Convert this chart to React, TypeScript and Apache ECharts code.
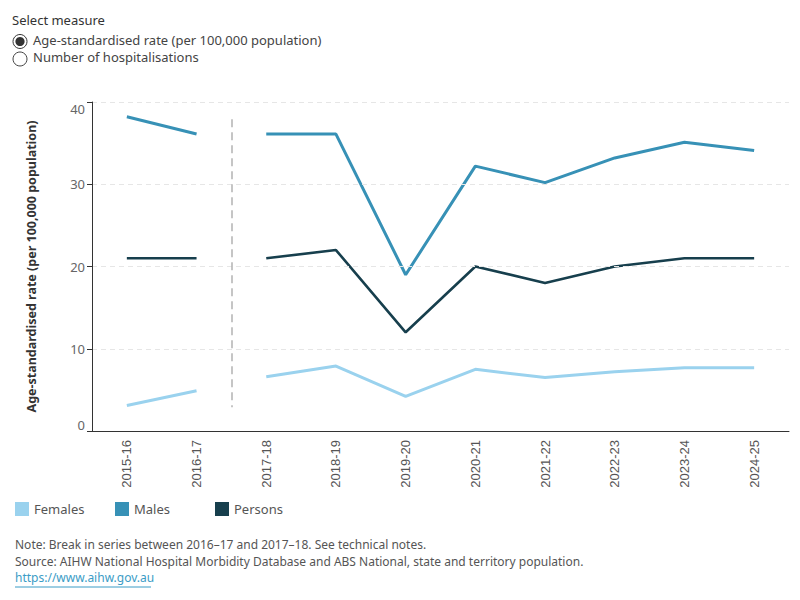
import { useEffect, useRef } from "react";
import * as echarts from "echarts";

// Financial years shown on the x axis
const years = [
  "2015-16",
  "2016-17",
  "2017-18",
  "2018-19",
  "2019-20",
  "2020-21",
  "2021-22",
  "2022-23",
  "2023-24",
  "2024-25",
];

// Age-standardised rate (per 100,000 population)
const females = [3.1, 4.9, 6.6, 7.9, 4.2, 7.5, 6.5, 7.2, 7.7, 7.7];
const males = [38.2, 36.1, 36.1, 36.1, 19.0, 32.2, 30.2, 33.2, 35.1, 34.1];
const persons = [21.0, 21.0, 21.0, 22.0, 12.0, 20.0, 18.0, 20.0, 21.0, 21.0];

const seriesNames = ["Females", "Males", "Persons"];
const seriesColors = ["#9ad2ee", "#3791b6", "#173f4d"];

// Index of the last year before the break in series
const BREAK_AFTER = 1;

const yTickValues = [0, 10, 20, 30, 40];

const FONT = "'Noto Sans', 'Open Sans', sans-serif";

function splitAtBreak(values: number[]): [(number | string)[], (number | string)[]] {
  const before = values.map((v, i) => (i <= BREAK_AFTER ? v : "-"));
  const after = values.map((v, i) => (i > BREAK_AFTER ? v : "-"));
  return [before, after];
}

export default function App() {
  const ref = useRef<HTMLDivElement>(null);

  useEffect(() => {
    if (!ref.current) return;
    const chart = echarts.init(ref.current, null, { renderer: "svg" });

    const groups = [females, males, persons];
    const lineSeries: any[] = [];
    groups.forEach((values, gi) => {
      const parts = splitAtBreak(values);
      parts.forEach((part) => {
        lineSeries.push({
          name: seriesNames[gi],
          type: "line",
          data: part,
          xAxisIndex: 0,
          yAxisIndex: 0,
          showSymbol: false,
          symbol: "none",
          connectNulls: false,
          color: seriesColors[gi],
          lineStyle: { color: seriesColors[gi], width: gi === 2 ? 2.6 : 3 },
          emphasis: { disabled: true },
          z: 3,
        });
      });
    });

    // Break-in-series marker between 2016-17 and 2017-18
    const breakSeries = {
      type: "line",
      xAxisIndex: 1,
      yAxisIndex: 0,
      data: [],
      silent: true,
      markArea: {
        silent: true,
        itemStyle: { color: "#ffffff" },
        data: [[{ xAxis: BREAK_AFTER + 0.22, yAxis: 0.3 }, { xAxis: BREAK_AFTER + 0.78, yAxis: 39.6 }]],
      },
      markLine: {
        silent: true,
        symbol: "none",
        label: { show: false },
        lineStyle: { type: [8, 5], color: "#b3b3b3", width: 1.5 },
        data: [[{ coord: [BREAK_AFTER + 0.5, 37.9] }, { coord: [BREAK_AFTER + 0.5, 2.9] }]],
      },
      z: 2,
    };

    // One legend block per series so the entries sit on an even 100px pitch
    const legends = seriesNames.map((name, i) => ({
      data: [name],
      left: 15 + i * 100,
      top: 502,
      padding: 0,
      icon: "rect",
      itemWidth: 14,
      itemHeight: 14,
      selectedMode: false,
      textStyle: { color: "#555555", fontSize: 13, fontFamily: FONT },
    }));

    const option: any = {
      animation: false,
      backgroundColor: "#ffffff",
      textStyle: { fontFamily: FONT },
      grid: { left: 92, right: 11, top: 102, bottom: 169, containLabel: false },
      legend: legends,
      xAxis: [
        {
          type: "category",
          data: years,
          boundaryGap: true,
          axisLine: { show: true, onZero: false, lineStyle: { color: "#333333", width: 1 } },
          axisTick: { show: false },
          splitLine: { show: false },
          axisLabel: {
            rotate: 90,
            margin: 9,
            color: "#555555",
            fontSize: 13,
            fontFamily: "'Liberation Sans', Arial, sans-serif",
          },
          z: 5,
        },
        {
          type: "value",
          min: -0.5,
          max: years.length - 0.5,
          show: false,
          splitLine: { show: false },
        },
      ],
      yAxis: [
        {
          type: "value",
          min: 0,
          max: 40,
          interval: 10,
          name: "Age-standardised rate (per 100,000 population)",
          nameLocation: "middle",
          nameGap: 54,
          nameTextStyle: { color: "#333333", fontSize: 12.5, fontWeight: "bold", fontFamily: FONT },
          axisLine: { show: true, onZero: false, lineStyle: { color: "#333333", width: 1 } },
          axisTick: { show: true, length: 5, lineStyle: { color: "#333333" } },
          splitLine: { show: true, lineStyle: { color: "#e6e6e6", type: [5, 4], width: 1 } },
          axisLabel: {
            margin: 7,
            color: "#666666",
            fontSize: 13,
            fontFamily: FONT,
            verticalAlignMinLabel: "bottom",
            verticalAlignMaxLabel: "top",
            customValues: yTickValues,
          },
          z: 5,
        },
      ],
      series: [...lineSeries, breakSeries],
      graphic: [
        {
          type: "text",
          left: 12,
          top: 13,
          style: { text: "Select measure", fill: "#333333", font: `13px ${FONT}` },
        },
        {
          type: "circle",
          shape: { cx: 20, cy: 41.5, r: 7 },
          style: { fill: "#ffffff", stroke: "#333333", lineWidth: 1 },
        },
        {
          type: "circle",
          shape: { cx: 20, cy: 41.5, r: 4.6 },
          style: { fill: "#333333" },
        },
        {
          type: "text",
          left: 33,
          top: 33,
          style: {
            text: "Age-standardised rate (per 100,000 population)",
            fill: "#444444",
            font: `13px ${FONT}`,
          },
        },
        {
          type: "circle",
          shape: { cx: 20, cy: 59, r: 7 },
          style: { fill: "#ffffff", stroke: "#444444", lineWidth: 1 },
        },
        {
          type: "text",
          left: 33,
          top: 50,
          style: { text: "Number of hospitalisations", fill: "#444444", font: `13px ${FONT}` },
        },
        {
          type: "text",
          left: 15,
          top: 538,
          style: {
            text: "Note: Break in series between 2016–17 and 2017–18. See technical notes.",
            fill: "#555555",
            font: `12px ${FONT}`,
          },
        },
        {
          type: "text",
          left: 15,
          top: 555,
          style: {
            text: "Source: AIHW National Hospital Morbidity Database and ABS National, state and territory population.",
            fill: "#555555",
            font: `12px ${FONT}`,
          },
        },
        {
          type: "text",
          left: 15,
          top: 571,
          style: { text: "https://www.aihw.gov.au", fill: "#3b9cc6", font: `12px ${FONT}` },
        },
        {
          type: "line",
          shape: { x1: 15, y1: 587, x2: 151, y2: 587 },
          style: { stroke: "#3b9cc6", lineWidth: 1 },
        },
      ],
    };

    chart.setOption(option);
    return () => chart.dispose();
  }, []);

  return (
    <div
      ref={ref}
      style={{ position: "fixed", left: 0, top: 0, width: 800, height: 600, background: "#fff" }}
    />
  );
}
